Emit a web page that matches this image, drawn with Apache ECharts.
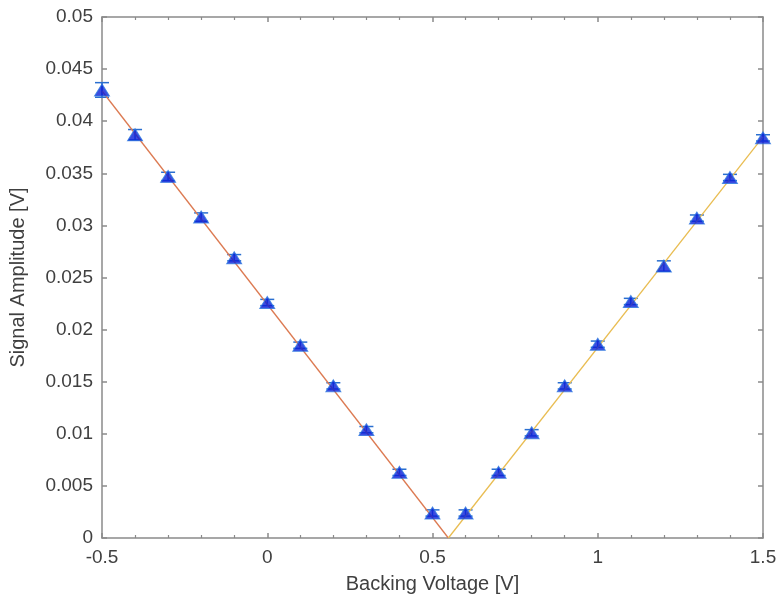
<!DOCTYPE html>
<html>
<head>
<meta charset="utf-8">
<script src="https://cdn.jsdelivr.net/npm/echarts@6/dist/echarts.min.js"></script>
<style>
  html, body { margin: 0; padding: 0; background: #fff; }
  #chart { width: 781px; height: 606px; }
</style>
</head>
<body>
<div id="chart"></div>
<script>
// measured points
var voltage = [-0.5, -0.4, -0.3, -0.2, -0.1, 0, 0.1, 0.2, 0.3, 0.4, 0.5,
               0.6, 0.7, 0.8, 0.9, 1.0, 1.1, 1.2, 1.3, 1.4, 1.5];
var amplitude = [0.0430, 0.0387, 0.0347, 0.0308, 0.0269, 0.0226, 0.0185, 0.0146, 0.0104, 0.0063, 0.0024,
                 0.0024, 0.0063, 0.0101, 0.0146, 0.0186, 0.0227, 0.0261, 0.0307, 0.0346, 0.0384];
var errors = [0.0007, 0.0005, 0.0004, 0.0004, 0.0003, 0.0003, 0.0003, 0.0003, 0.0003, 0.0003, 0.0003,
              0.0003, 0.0003, 0.0003, 0.0003, 0.0003, 0.0003, 0.0005, 0.0003, 0.0003, 0.0003];
// fitted lines (end points)
var fitLeft = [[-0.5, 0.0429], [0.548, 0]];
var fitRight = [[0.548, 0], [1.5, 0.0385]];

var axisColor = '#8a8a8a';
var labelColor = '#404040';
var fontFamily = 'Liberation Sans, Arial, sans-serif';

var chart = echarts.init(document.getElementById('chart'));

function xAxisCfg(pos, showLabel) {
  return {
    type: 'value', position: pos,
    min: -0.5, max: 1.5, interval: 0.5,
    name: showLabel ? 'Backing Voltage [V]' : '',
    nameLocation: 'middle', nameGap: 36,
    nameTextStyle: { color: labelColor, fontSize: 20, fontFamily: fontFamily },
    axisLine: { show: true, onZero: false, lineStyle: { color: axisColor, width: 1.5 } },
    axisTick: { show: true, inside: true, length: 5, lineStyle: { color: axisColor, width: 1.5 } },
    minorTick: { show: true, splitNumber: 5, length: 3, lineStyle: { color: axisColor, width: 1.2 } },
    axisLabel: { show: showLabel, color: labelColor, fontSize: 19, fontFamily: fontFamily, margin: 10 },
    splitLine: { show: false }
  };
}
function yAxisCfg(pos, showLabel) {
  return {
    type: 'value', position: pos,
    min: 0, max: 0.05, interval: 0.005,
    name: showLabel ? 'Signal Amplitude [V]' : '',
    nameLocation: 'middle', nameGap: 74,
    nameTextStyle: { color: labelColor, fontSize: 20, fontFamily: fontFamily },
    axisLine: { show: true, onZero: false, lineStyle: { color: axisColor, width: 1.5 } },
    axisTick: { show: true, inside: true, length: 5, lineStyle: { color: axisColor, width: 1.5 } },
    axisLabel: { show: showLabel, color: labelColor, fontSize: 19, fontFamily: fontFamily, margin: 9 },
    splitLine: { show: false }
  };
}

var pointData = voltage.map(function (v, i) { return [v, amplitude[i]]; });
var errData = voltage.map(function (v, i) { return [v, amplitude[i] - errors[i], amplitude[i] + errors[i]]; });

chart.setOption({
  backgroundColor: '#fff',
  animation: false,
  grid: { left: 101, right: 18, top: 17, bottom: 68 },
  xAxis: [xAxisCfg('bottom', true), xAxisCfg('top', false)],
  yAxis: [yAxisCfg('left', true), yAxisCfg('right', false)],
  series: [
    {
      type: 'custom',
      data: errData,
      z: 2,
      renderItem: function (params, api) {
        var lo = api.coord([api.value(0), api.value(1)]);
        var hi = api.coord([api.value(0), api.value(2)]);
        var cap = 7;
        var style = { stroke: '#2a6fd0', lineWidth: 1.5 };
        return {
          type: 'group',
          children: [
            { type: 'line', shape: { x1: lo[0], y1: lo[1], x2: hi[0], y2: hi[1] }, style: style },
            { type: 'line', shape: { x1: lo[0] - cap, y1: lo[1], x2: lo[0] + cap, y2: lo[1] }, style: style },
            { type: 'line', shape: { x1: hi[0] - cap, y1: hi[1], x2: hi[0] + cap, y2: hi[1] }, style: style }
          ]
        };
      }
    },
    {
      type: 'line',
      data: fitLeft,
      symbol: 'none',
      z: 3,
      lineStyle: { color: '#dc7a52', width: 1.3 }
    },
    {
      type: 'line',
      data: fitRight,
      symbol: 'none',
      z: 3,
      lineStyle: { color: '#e9bd52', width: 1.3 }
    },
    {
      type: 'scatter',
      data: pointData,
      symbol: 'triangle',
      symbolSize: [15, 12],
      z: 4,
      itemStyle: { color: '#0a1ed8', borderColor: '#2f7ae0', borderWidth: 1 }
    }
  ]
});
</script>
</body>
</html>
